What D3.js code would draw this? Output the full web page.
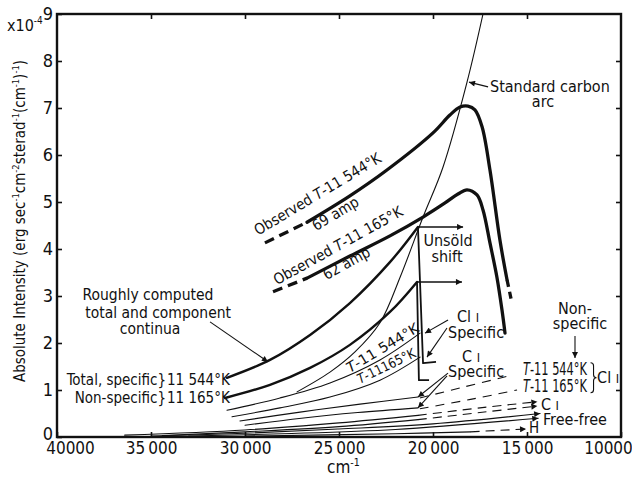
<!DOCTYPE html>
<html>
<head>
<meta charset="utf-8">
<script src="https://cdn.jsdelivr.net/npm/d3@7"></script>
<style>
  html, body { margin: 0; padding: 0; background: #fff; }
  svg text { font-family: "DejaVu Sans Condensed", "Liberation Sans Narrow", "DejaVu Sans", sans-serif; fill: #111; }
</style>
</head>
<body>
<svg id="chart" width="632" height="479"></svg>
<script>
// ---- axes ----
const xTicks = [40000, 35000, 30000, 25000, 20000, 15000, 10000];
const xTickLabels = ["40000", "35\u2009000", "30\u2009000", "25\u2009000", "20\u2009000", "15\u2009000", "10000"];
const yTicks = [0, 1, 2, 3, 4, 5, 6, 7, 8, 9];
const yTickLabels = ["0", "1", "2", "3", "4", "5", "6", "7", "8", "9"];

// ---- observed arc spectra: [wavenumber cm^-1, intensity x10^-4] ----
const obs69Lead = [[28940, 4.13], [26700, 4.57]];
const obs69 = [[26700, 4.57], [24420, 5.13], [22450, 5.68], [20000, 6.47], [19100, 6.85], [18560, 7.02],
               [18140, 7.04], [17770, 6.96], [17390, 6.60], [16970, 5.68], [16440, 4.19], [16060, 3.34]];
const obs69Tail = [[16060, 3.34], [15800, 2.85]];

const obs62Lead = [[28510, 3.09], [26700, 3.38]];
const obs62 = [[26700, 3.38], [24420, 3.85], [22290, 4.28], [20530, 4.68], [19360, 4.98], [18670, 5.17],
               [18190, 5.26], [17660, 5.15], [17340, 4.83], [16970, 4.13], [16600, 3.40], [16330, 2.70], [16170, 2.21]];

// standard carbon arc
const carbonArc = [[17340, 9.0], [18190, 7.55], [19470, 5.74], [20530, 4.68], [21750, 3.40],
                   [22820, 2.43], [24150, 1.81], [25480, 1.38], [27230, 0.96]];

// ---- roughly computed continua ----
const total11544 = [[30960, 1.26], [28670, 1.64], [26540, 2.17], [24420, 2.85], [22290, 3.72], [20800, 4.47]];
const total11165 = [[31060, 0.83], [28670, 1.11], [26540, 1.47], [24420, 1.96], [22290, 2.66], [20850, 3.30]];
const edge11544 = [[20800, 4.47], [20530, 1.57], [19840, 1.60]];
const edge11165 = [[20850, 3.30], [20750, 1.21], [20210, 1.21]];
const shift11544 = [[20800, 4.47], [18400, 4.47]];
const shift11165 = [[20850, 3.30], [18460, 3.30]];

const clSpec11544 = [[30960, 0.57], [28140, 0.83], [25480, 1.15], [22820, 1.64], [20690, 2.21]];
const clSpec11165 = [[30690, 0.43], [28140, 0.62], [25480, 0.85], [22820, 1.21], [20690, 1.70]];

const ciSpec11544 = [[30270, 0.34], [27070, 0.53], [23880, 0.70], [20800, 0.85]];
const clNon11544 = [[20700, 0.83], [18500, 1.05], [15750, 1.32]];
const ciSpec11165 = [[30000, 0.25], [27000, 0.40], [24000, 0.52], [20800, 0.62]];
const clNon11165 = [[20700, 0.60], [18000, 0.80], [15530, 1.00]];

const ciNon11544 = [[36400, 0.04], [30000, 0.15], [25000, 0.30], [20800, 0.46]];
const ciNon11544Ext = [[20800, 0.46], [17500, 0.62], [14450, 0.75]];
const ciNon11165 = [[34400, 0.03], [30000, 0.11], [25000, 0.22], [20800, 0.37]];
const ciNon11165Ext = [[20800, 0.37], [17500, 0.52], [14450, 0.66]];
const freeFree11544 = [[35000, 0.02], [30000, 0.08], [25000, 0.17], [20000, 0.28], [14300, 0.50]];
const freeFree11165 = [[33000, 0.02], [28000, 0.07], [22000, 0.16], [14400, 0.40]];
const hydrogen = [[30000, 0.02], [22000, 0.07], [18000, 0.11]];
const hydrogenExt = [[18000, 0.11], [15050, 0.17]];

// ---- drawing ----
const svg = d3.select("#chart");
const x = d3.scaleLinear().domain([40000, 10000]).range([57, 621]);
const y = d3.scaleLinear().domain([0, 9]).range([437, 14]);
const ink = "#111";

const defs = svg.append("defs");
defs.append("marker").attr("id", "arrow").attr("viewBox", "0 0 10 10")
  .attr("refX", 10).attr("refY", 5).attr("markerWidth", 10).attr("markerHeight", 6)
  .attr("markerUnits", "userSpaceOnUse").attr("orient", "auto")
  .append("path").attr("d", "M0,0 L10,5 L0,10 z").attr("fill", ink);
defs.append("clipPath").attr("id", "plotClip").append("rect")
  .attr("x", x(40000)).attr("y", y(9)).attr("width", x(10000) - x(40000)).attr("height", y(0) - y(9));

const smooth = d3.line().x(d => x(d[0])).y(d => y(d[1])).curve(d3.curveCatmullRom.alpha(0.5));
const straight = d3.line().x(d => x(d[0])).y(d => y(d[1]));

const plot = svg.append("g").attr("clip-path", "url(#plotClip)");
function curve(data, width, opts = {}) {
  const p = plot.append("path").datum(data)
    .attr("d", opts.straight ? straight : smooth)
    .attr("fill", "none").attr("stroke", ink).attr("stroke-width", width)
    .attr("stroke-linejoin", "round").attr("stroke-linecap", opts.cap || "round");
  if (opts.dash) p.attr("stroke-dasharray", opts.dash);
  if (opts.arrow) p.attr("marker-end", "url(#arrow)");
  return p;
}

// frame and ticks
svg.append("rect").attr("x", x(40000)).attr("y", y(9))
  .attr("width", x(10000) - x(40000)).attr("height", y(0) - y(9))
  .attr("fill", "none").attr("stroke", ink).attr("stroke-width", 2.4);

const gx = svg.append("g").attr("transform", `translate(0,${y(0)})`)
  .call(d3.axisBottom(x).tickValues(xTicks).tickSize(-5).tickPadding(5)
    .tickFormat((d, i) => xTickLabels[i]));
const gy = svg.append("g").attr("transform", `translate(${x(40000)},0)`)
  .call(d3.axisLeft(y).tickValues(yTicks).tickSize(-5).tickPadding(4)
    .tickFormat((d, i) => yTickLabels[i]));
svg.append("g").attr("transform", `translate(0,${y(9)})`)
  .call(d3.axisTop(x).tickValues(xTicks.slice(1, -1)).tickSize(-5).tickFormat(""));
svg.append("g").attr("transform", `translate(${x(10000)},0)`)
  .call(d3.axisRight(y).tickValues(yTicks.slice(1, -1)).tickSize(-5).tickFormat(""));
svg.selectAll(".domain").remove();
svg.selectAll(".tick line").attr("stroke", ink).attr("stroke-width", 1.6);
svg.selectAll("g").attr("font-family", null);
gx.selectAll("text").attr("font-size", 17).attr("fill", ink);
gy.selectAll("text").attr("font-size", 18).attr("fill", ink);
gy.selectAll(".tick text").filter(d => d === 0).attr("y", -3);
gx.selectAll(".tick text").filter(d => d === 40000).attr("dx", 13);
gx.selectAll(".tick text").filter(d => d === 10000).attr("dx", -13);

// text helper with superscripts / italics
function rich(parent, px, py, segs, o = {}) {
  const size = o.size || 15;
  const t = parent.append("text").attr("x", px).attr("y", py).attr("font-size", size)
    .attr("text-anchor", o.anchor || "start");
  if (o.rotate) t.attr("transform", `rotate(${o.rotate},${px},${py})`);
  let shift = 0;
  segs.forEach(s => {
    if (typeof s === "string") s = { t: s };
    const ts = t.append("tspan").text(s.t);
    let target = 0, fs = size;
    if (s.sup) { target = -size * 0.42; fs = size * 0.62; }
    if (s.small) fs = size * 0.8;
    ts.attr("font-size", fs);
    if (target !== shift) { ts.attr("dy", target - shift); shift = target; }
    if (s.italic) ts.attr("font-style", "italic");
  });
  if (o.len) t.attr("textLength", o.len).attr("lengthAdjust", "spacingAndGlyphs");
  return t;
}
const P = (v, i) => [x(v), y(i)];

// axis titles
rich(svg, 7, 31, ["x10", { t: "-4", sup: true }], { size: 16 });
rich(svg, 25, 221, ["Absolute Intensity (erg sec", { t: "-1", sup: true }, "cm", { t: "-2", sup: true },
  "sterad", { t: "-1", sup: true }, "(cm", { t: "-1", sup: true }, ")", { t: "-1", sup: true }, ")"],
  { size: 15, anchor: "middle", rotate: -90, len: 322 });
rich(svg, 327, 473, ["cm", { t: "-1", sup: true }], { size: 17 });

// observed curves
curve(obs69Lead, 3.3, { dash: "10,6", cap: "butt", straight: true });
curve(obs69, 3.3);
curve(obs69Tail, 3.3, { dash: "7,5", cap: "butt", straight: true });
curve(obs62Lead, 3.3, { dash: "10,6", cap: "butt", straight: true });
curve(obs62, 3.3);
curve(carbonArc, 1.1);

// computed continua
curve(total11544, 2.4);
curve(total11165, 2.4);
curve(edge11544, 1.8, { straight: true, cap: "butt" });
curve(edge11165, 1.8, { straight: true, cap: "butt" });
curve(shift11544, 1.5, { straight: true, arrow: true, cap: "butt" });
curve(shift11165, 1.5, { straight: true, arrow: true, cap: "butt" });
curve(clSpec11544, 1.1);
curve(clSpec11165, 1.1);
curve(ciSpec11544, 1.1);
curve(clNon11544, 1.1, { dash: "9,7", cap: "butt" });
curve(ciSpec11165, 1.1);
curve(clNon11165, 1.1, { dash: "9,7", cap: "butt" });
curve(ciNon11544, 1.1);
curve(ciNon11544Ext, 1.1, { dash: "9,6", cap: "butt", arrow: true });
curve(ciNon11165, 1.1);
curve(ciNon11165Ext, 1.1, { dash: "9,6", cap: "butt", arrow: true });
curve(freeFree11544, 1.1, { arrow: true });
curve(freeFree11165, 1.1, { arrow: true });
curve(hydrogen, 1.1);
curve(hydrogenExt, 1.1, { dash: "9,6", cap: "butt", arrow: true });

// pointer arrows
const ann = svg.append("g");
function pointer(a, b, w = 1.1) {
  ann.append("line").attr("x1", x(a[0])).attr("y1", y(a[1])).attr("x2", x(b[0])).attr("y2", y(b[1]))
    .attr("stroke", ink).attr("stroke-width", w).attr("marker-end", "url(#arrow)");
}
pointer([31860, 2.45], [28780, 1.60]);
pointer([17070, 7.45], [18085, 7.55]);
pointer([19200, 2.49], [20426, 2.21]);
pointer([19255, 2.32], [20319, 1.70]);
pointer([19202, 1.36], [20798, 0.85]);
pointer([19255, 1.30], [20798, 0.62]);
pointer([12447, 2.15], [12447, 1.68]);

// curly brace grouping the two non-specific Cl I labels
(function brace() {
  const bx = x(11620), top = y(1.58), bot = y(0.94), mid = (top + bot) / 2;
  ann.append("path")
    .attr("d", `M${bx},${top} q3,0 3,3 V${mid - 3} q0,3 3,3 q-3,0 -3,3 V${bot - 3} q0,3 -3,3`)
    .attr("fill", "none").attr("stroke", ink).attr("stroke-width", 1.1);
})();

// labels
const L = svg.append("g");
rich(L, ...P(35160, 2.915), ["Roughly computed"], { size: 15.5, anchor: "middle" });
rich(L, ...P(34620, 2.53), ["total and component"], { size: 15.5, anchor: "middle" });
rich(L, ...P(35050, 2.19), ["continua"], { size: 15.5, anchor: "middle" });
rich(L, ...P(34200, 1.106), ["Total, specific}"], { size: 15, anchor: "end" });
rich(L, ...P(34150, 1.106), ["11 544°K"], { size: 15 });
rich(L, ...P(34200, 0.723), ["Non-specific}"], { size: 15, anchor: "end" });
rich(L, ...P(34150, 0.723), ["11 165°K"], { size: 15 });

rich(L, ...P(29309, 4.28), ["Observed ", { t: "T", italic: true }, "-11 544°K"], { size: 15, rotate: -31 });
rich(L, ...P(25050, 4.66), ["69 amp"], { size: 15, rotate: -31, anchor: "middle" });
rich(L, ...P(28300, 3.23), ["Observed ", { t: "T", italic: true }, "-11 165°K"], { size: 15, rotate: -29 });
rich(L, ...P(24470, 3.60), ["62 amp"], { size: 15, rotate: -29, anchor: "middle" });

rich(L, ...P(16968, 7.34), ["Standard  carbon"], { size: 16 });
rich(L, ...P(14149, 7.02), ["arc"], { size: 16, anchor: "middle" });
rich(L, ...P(19202, 4.06), ["Unsöld"], { size: 16, anchor: "middle" });
rich(L, ...P(19255, 3.72), ["shift"], { size: 16, anchor: "middle" });

rich(L, ...P(24420, 1.36), [{ t: "T", italic: true }, "-11 544°K"], { size: 14, rotate: -31, len: 82 });
rich(L, ...P(23880, 1.13), [{ t: "T", italic: true }, "-11165°K"], { size: 13.5, rotate: -26, len: 63 });

rich(L, ...P(18723, 2.45), ["Cl ", { t: "I", small: true }], { size: 16 });
rich(L, ...P(19202, 2.11), ["Specific"], { size: 16 });
rich(L, ...P(18457, 1.60), ["C ", { t: "I", small: true }], { size: 16 });
rich(L, ...P(19202, 1.28), ["Specific"], { size: 16 });

rich(L, ...P(12447, 2.62), ["Non-"], { size: 16, anchor: "middle" });
rich(L, ...P(12181, 2.30), ["specific"], { size: 16, anchor: "middle" });
rich(L, ...P(15213, 1.32), [{ t: "T", italic: true }, "-11 544°K"], { size: 17, len: 64 });
rich(L, ...P(15213, 0.96), [{ t: "T", italic: true }, "-11 165°K"], { size: 17, len: 64 });
rich(L, ...P(11270, 1.15), ["Cl ", { t: "I", small: true }], { size: 16 });
rich(L, ...P(14256, 0.58), ["C ", { t: "I", small: true }], { size: 16 });
rich(L, ...P(14149, 0.255), ["Free-free"], { size: 16 });
rich(L, ...P(14894, 0.085), ["H"], { size: 15 });
</script>
</body>
</html>
